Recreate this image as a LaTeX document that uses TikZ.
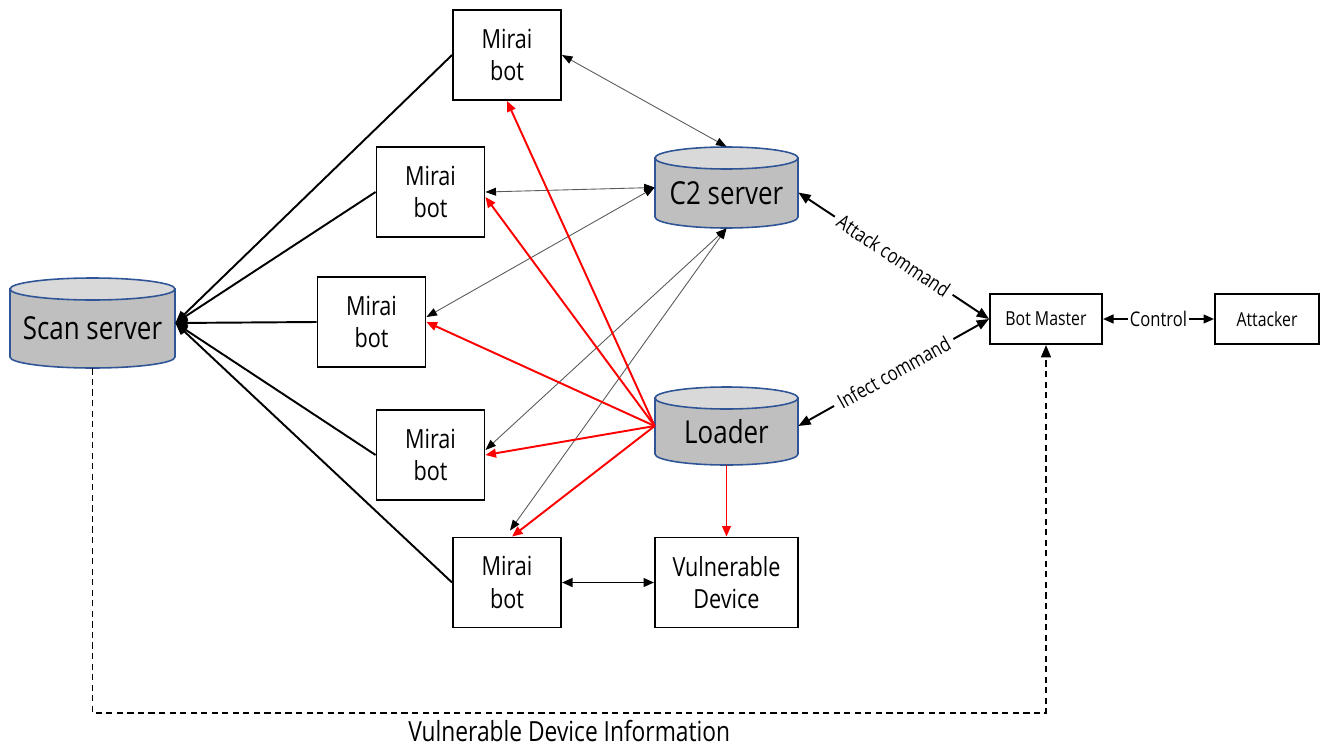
\documentclass[tikz,border=0pt]{standalone}
\usepackage{fontspec}
\setmainfont[FakeStretch=0.82]{Open Sans}
\usetikzlibrary{arrows.meta}
\definecolor{cylblue}{HTML}{2F5597}
\definecolor{cylbody}{HTML}{BFBFBF}
\definecolor{cyllid}{HTML}{D9D9D9}
\definecolor{thinline}{HTML}{595959}
\newcommand{\dbcyl}[7]{%
  \pgfmathsetmacro{\cylrx}{#5*0.02}%
  \filldraw[cylbodystyle] (#2-#5,#3+11) -- (#2-#5,#4-11) arc[start angle=180,end angle=360,x radius=\cylrx cm,y radius=0.22cm] -- (#2+#5,#3+11) -- cycle;
  \filldraw[cyllidstyle] (#2,#3+11) ellipse[x radius=\cylrx cm,y radius=0.22cm];
  \node[anchornode, minimum width={2*\cylrx cm}, minimum height={(#4-#3)*0.02cm}] (#1) at (#2,{(#3+#4)/2}) {};
  \node[cyltext] (#1-t) at (#2,{(#3+11+#4)/2}) {#6};
}
\begin{document}
\begin{tikzpicture}[x=0.02cm,y=-0.02cm,
  cylbodystyle/.style={draw=cylblue, fill=cylbody, line width=0.9pt},
  cyllidstyle/.style={draw=cylblue, fill=cyllid, line width=0.9pt},
  anchornode/.style={draw=none, inner sep=0pt, rectangle},
  cyltext/.style={inner sep=0pt, font=\fontsize{18}{22}\selectfont},
  box/.style={draw=black, line width=1.1pt, inner sep=0pt, align=center, fill=white},
  bot/.style={box, minimum width=2.16cm, minimum height=1.8cm, font=\fontsize{15}{18.5}\selectfont},
  smallbox/.style={box, minimum height=1.0cm, font=\fontsize{11}{13}\selectfont},
  blk/.style={line width=1.1pt, draw=black},
  grayl/.style={line width=0.5pt, draw=thinline, {Triangle[length=6pt,width=4.5pt,color=black]}-{Triangle[length=6pt,width=4.5pt,color=black]}},
  redl/.style={line width=1.1pt, draw=red, -{Triangle[length=6pt,width=5pt]}},
  lbl/.style={fill=white, inner sep=3pt, font=\fontsize{11.5}{13}\selectfont},
]
\useasboundingbox (0,0) rectangle (1321,747);

% cylinders
\dbcyl{ss}{92.5}{278}{368}{82.5}{Scan server}{}
\dbcyl{c2}{726.5}{147}{228}{71.5}{C2 server}{}
\dbcyl{ld}{726.5}{387}{465}{71.5}{Loader}{}

% boxes
\node[bot] (b1) at (507,55) {Mirai\\bot};
\node[bot] (b2) at (430.5,192) {Mirai\\bot};
\node[bot] (b3) at (371.5,322) {Mirai\\bot};
\node[bot] (b4) at (430.5,455) {Mirai\\bot};
\node[bot] (b5) at (507,582.5) {Mirai\\bot};
\node[bot, minimum width=2.86cm] (vd) at (726.5,582.5) {Vulnerable\\Device};
\node[smallbox, minimum width=2.24cm] (bm) at (1046,319) {Bot Master};
\node[smallbox, minimum width=2.08cm] (at) at (1267,319) {Attacker};

% scan server connections
\foreach \b in {b1,b2,b3,b4,b5}
  \draw[blk, {Triangle[length=7pt,width=5.5pt]}-] (ss.east) -- (\b.west);

% C2 connections
\draw[grayl] (b1.east) -- (c2.north);
\draw[grayl] (b2.east) -- (c2.west);
\draw[grayl] ([yshift=0.1cm]b3.east) -- (c2.west);
\draw[grayl] ([yshift=0.1cm]b4.east) -- (c2.south);
\draw[grayl] ([xshift=0.06cm,yshift=0.12cm]b5.north) -- (c2.south);

% loader connections
\draw[redl] (ld.west) -- (b1.south);
\draw[redl] (ld.west) -- ([yshift=-0.1cm]b2.east);
\draw[redl] (ld.west) -- (b3.east);
\draw[redl] (ld.west) -- (b4.east);
\draw[redl] (ld.west) -- ([xshift=0.1cm]b5.north);
\draw[redl] (ld.south) -- (vd.north);

% bot - device
\draw[blk, {Triangle[length=6pt,width=5pt]}-{Triangle[length=6pt,width=5pt]}] (b5.east) -- (vd.west);

% commands
\draw[blk, {Triangle[length=7pt,width=5.5pt]}-{Triangle[length=7pt,width=5.5pt]}] ([yshift=-0.1cm]c2.east) -- node[lbl, sloped] (atk) {Attack command} (bm.west);
\draw[blk, {Triangle[length=7pt,width=5.5pt]}-{Triangle[length=7pt,width=5.5pt]}] (ld.east) -- node[lbl, sloped] (inf) {Infect command} (bm.west);
\draw[blk, {Triangle[length=6pt,width=5pt]}-{Triangle[length=6pt,width=5pt]}] (bm.east) -- node[lbl, inner sep=1pt] (ctl) {Control} (at.west);

% vulnerable device information
\draw[line width=1.1pt, dash pattern=on 3.5pt off 2.5pt, -{Triangle[length=7pt,width=5.5pt]}] (ss.south) -- (ss.south |- 0,713) -| node[pos=0.25, below=0pt, font=\fontsize{15.8}{18}\selectfont] (vdi) {Vulnerable Device Information} (bm.south);
\end{tikzpicture}
\end{document}
